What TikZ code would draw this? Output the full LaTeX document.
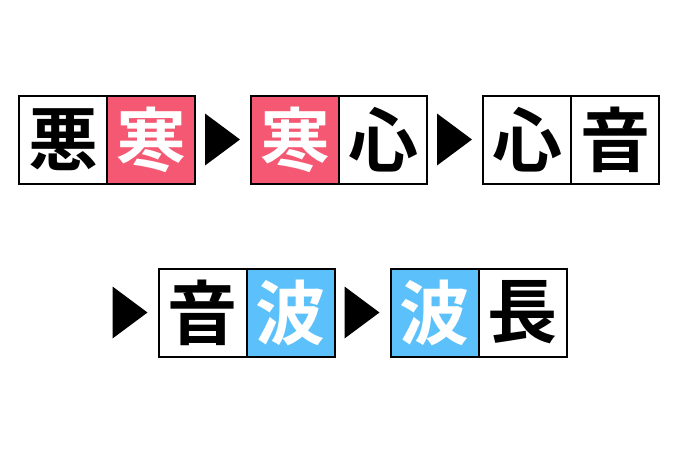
\documentclass[tikz,border=0pt]{standalone}
\usepackage{fontspec}
\newfontfamily\jpfont{Noto Sans CJK JP Bold}
\usetikzlibrary{positioning}
\definecolor{samui}{RGB}{245,88,114}
\definecolor{nami}{RGB}{92,192,250}
\begin{document}
\begin{tikzpicture}[x=1pt,y=1pt]
			\tikzset{kasu/.style={rectangle, draw=black, line width=2pt, minimum width=88pt, minimum height=88pt, outer sep=0pt, inner sep=0pt, font=\jpfont\fontsize{70}{70}\selectfont}}
			\tikzset{aka/.style={kasu, fill=samui, text=white}}
			\tikzset{ao/.style={kasu, fill=nami, text=white}}
			\tikzset{sankaku/.style={fill=black}}
			\useasboundingbox (0,0) rectangle (680,-453);

			% Row one
			\node[kasu] at (63,-139.5) (a1) {悪};
			\node[aka, right=0pt of a1] (a2) {寒};
			\node[aka, right=56pt of a2] (b1) {寒};
			\node[kasu, right=0pt of b1] (b2) {心};
			\node[kasu, right=56pt of b2] (c1) {心};
			\node[kasu, right=0pt of c1] (c2) {音};

			% Row two
			\node[kasu] at (202.5,-312.5) (d1) {音};
			\node[ao, right=0pt of d1] (d2) {波};
			\node[ao, right=56pt of d2] (e1) {波};
			\node[kasu, right=0pt of e1] (e2) {長};

			% Triangles
			\fill[sankaku, shift={(a2.east)}] (10,26) -- (45,0) -- (10,-26) -- cycle;
			\fill[sankaku, shift={(b2.east)}] (10,26) -- (45,0) -- (10,-26) -- cycle;
			\fill[sankaku, shift={(d1.west)}] (-46,26) -- (-11,0) -- (-46,-26) -- cycle;
			\fill[sankaku, shift={(d2.east)}] (10,26) -- (45,0) -- (10,-26) -- cycle;
		\end{tikzpicture}
\end{document}
